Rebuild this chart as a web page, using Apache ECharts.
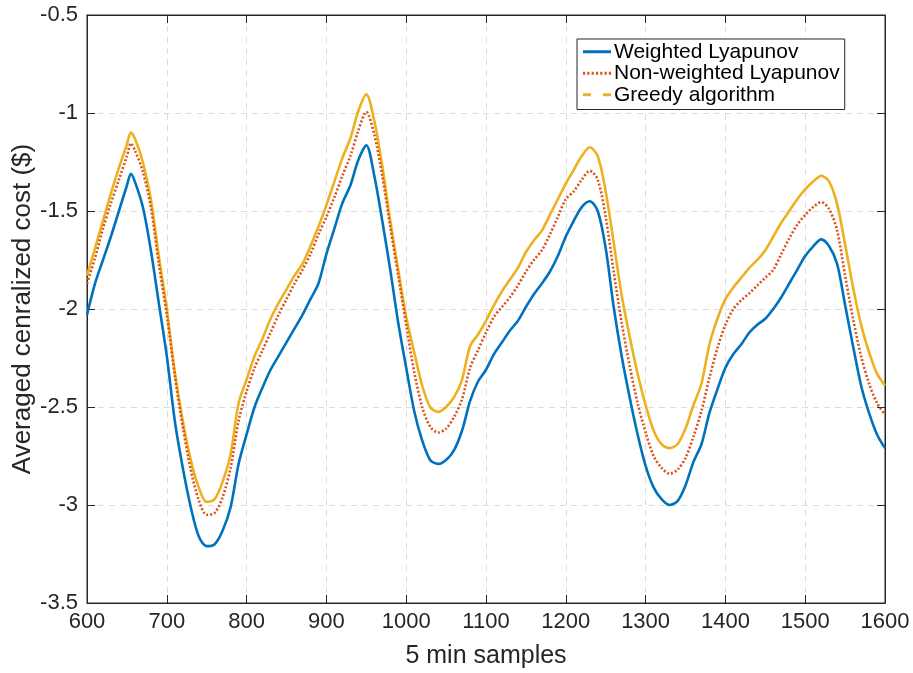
<!DOCTYPE html>
<html>
<head>
<meta charset="utf-8">
<script src="https://cdn.jsdelivr.net/npm/echarts@6/dist/echarts.min.js"></script>
<style>
html,body{margin:0;padding:0;background:#fff;}
#chart{width:913px;height:673px;}
</style>
</head>
<body>
<div id="chart"></div>
<script>
const samples = [600,610,620,630,640,650,655,660,670,680,690,700,710,720,730,740,750,760,770,780,790,800,810,820,830,840,850,860,870,880,890,900,910,920,930,940,950,960,970,980,990,1000,1010,1020,1030,1040,1050,1060,1070,1080,1090,1100,1110,1120,1130,1140,1150,1160,1170,1180,1190,1200,1210,1220,1230,1240,1250,1260,1270,1280,1290,1300,1310,1320,1330,1340,1350,1360,1370,1380,1390,1400,1410,1420,1430,1440,1450,1460,1470,1480,1490,1500,1510,1520,1530,1540,1550,1560,1570,1580,1590,1600];

const weighted = [-2.03,-1.87,-1.75,-1.63,-1.50,-1.37,-1.31,-1.35,-1.48,-1.70,-1.97,-2.24,-2.57,-2.81,-3.01,-3.16,-3.21,-3.20,-3.13,-3.01,-2.79,-2.64,-2.50,-2.40,-2.31,-2.24,-2.17,-2.10,-2.03,-1.95,-1.87,-1.72,-1.59,-1.46,-1.37,-1.24,-1.165,-1.32,-1.55,-1.80,-2.07,-2.30,-2.52,-2.67,-2.77,-2.79,-2.77,-2.72,-2.62,-2.47,-2.37,-2.31,-2.23,-2.17,-2.11,-2.06,-1.99,-1.925,-1.87,-1.81,-1.73,-1.63,-1.55,-1.48,-1.45,-1.50,-1.69,-1.99,-2.24,-2.45,-2.64,-2.80,-2.91,-2.97,-3.00,-2.98,-2.90,-2.78,-2.69,-2.53,-2.41,-2.30,-2.23,-2.18,-2.12,-2.08,-2.05,-2.00,-1.94,-1.87,-1.80,-1.73,-1.68,-1.645,-1.68,-1.77,-1.98,-2.19,-2.39,-2.53,-2.64,-2.71];

const nonWeighted = [-1.87,-1.74,-1.59,-1.46,-1.34,-1.22,-1.155,-1.19,-1.30,-1.48,-1.77,-2.03,-2.34,-2.60,-2.82,-2.975,-3.05,-3.04,-2.96,-2.81,-2.57,-2.42,-2.30,-2.21,-2.12,-2.03,-1.95,-1.87,-1.80,-1.72,-1.62,-1.53,-1.43,-1.32,-1.22,-1.09,-0.995,-1.11,-1.32,-1.58,-1.83,-2.08,-2.32,-2.50,-2.60,-2.63,-2.61,-2.55,-2.46,-2.30,-2.21,-2.12,-2.04,-1.99,-1.94,-1.88,-1.81,-1.75,-1.70,-1.62,-1.53,-1.44,-1.40,-1.34,-1.295,-1.34,-1.53,-1.81,-2.07,-2.29,-2.48,-2.63,-2.75,-2.81,-2.84,-2.82,-2.76,-2.65,-2.52,-2.35,-2.20,-2.08,-2.00,-1.955,-1.92,-1.88,-1.84,-1.80,-1.72,-1.64,-1.57,-1.52,-1.48,-1.455,-1.49,-1.60,-1.83,-2.05,-2.24,-2.38,-2.48,-2.54];

const greedy = [-1.83,-1.69,-1.55,-1.41,-1.28,-1.16,-1.10,-1.13,-1.25,-1.44,-1.73,-2.00,-2.32,-2.57,-2.77,-2.91,-2.985,-2.97,-2.88,-2.74,-2.48,-2.36,-2.24,-2.15,-2.05,-1.97,-1.90,-1.83,-1.77,-1.68,-1.58,-1.47,-1.35,-1.23,-1.13,-0.99,-0.905,-1.04,-1.27,-1.55,-1.80,-2.04,-2.22,-2.39,-2.50,-2.525,-2.50,-2.45,-2.36,-2.19,-2.13,-2.06,-1.98,-1.91,-1.85,-1.79,-1.71,-1.65,-1.60,-1.52,-1.44,-1.36,-1.29,-1.22,-1.175,-1.22,-1.40,-1.66,-1.93,-2.14,-2.33,-2.49,-2.62,-2.69,-2.71,-2.69,-2.61,-2.49,-2.38,-2.18,-2.05,-1.95,-1.89,-1.84,-1.79,-1.75,-1.70,-1.63,-1.56,-1.50,-1.44,-1.39,-1.35,-1.32,-1.35,-1.465,-1.67,-1.89,-2.08,-2.22,-2.33,-2.39];

const seriesNames = ['Weighted Lyapunov','Non-weighted Lyapunov','Greedy algorithm'];
const xTitle = '5 min samples';
const yTitle = 'Averaged cenralized cost ($)';

function pairs(vals){ return samples.map((x,i)=>[x, vals[i]]); }

// legend icons: solid, dotted, dashed line glyphs
let dotted = 'path://';
for (let i = 0; i <= 26; i += 4) dotted += 'M' + i + ',0h2v3h-2z';
const solidIcon = 'path://M0,0h28v3h-28z';
const dashedIcon = 'path://M0,0h8v3h-8zM20,0h8v3h-8z';

const FONT = 'Liberation Sans, Arial, Helvetica, sans-serif';
const axisColor = '#262626';
const gridLine = {show:true, lineStyle:{color:'#dcdcdc', type:[6,5], width:1}};

const chart = echarts.init(document.getElementById('chart'), null, {renderer:'canvas'});
chart.setOption({
  backgroundColor:'#ffffff',
  animation:false,
  grid:{left:87, right:28, top:15, bottom:70, containLabel:false, outerBoundsMode:'none',
        show:true, borderColor:axisColor, borderWidth:1, backgroundColor:'transparent'},
  legend:{
    show:true,
    orient:'vertical', left:577, top:39,
    backgroundColor:'#ffffff', borderColor:axisColor, borderWidth:1,
    padding:[2,5,4,6], itemGap:0, itemWidth:28, itemHeight:14,
    itemStyle:{borderWidth:0},
    textStyle:{fontFamily:FONT, fontSize:21, color:'#000', lineHeight:21.5, padding:[0,0,0,-2]},
    data:[
      {name:seriesNames[0], icon:solidIcon},
      {name:seriesNames[1], icon:dotted},
      {name:seriesNames[2], icon:dashedIcon}
    ]
  },
  xAxis:[{
    type:'value', min:600, max:1600, interval:100, position:'bottom',
    name:xTitle, nameLocation:'middle', nameGap:41, nameMoveOverlap:false,
    nameTextStyle:{fontFamily:FONT, fontSize:25, color:axisColor},
    axisLine:{show:true, onZero:false, lineStyle:{color:axisColor}},
    axisTick:{show:true, inside:true, length:8, lineStyle:{color:axisColor}},
    axisLabel:{fontFamily:FONT, fontSize:22, color:axisColor, margin:8, formatter:(v)=>String(v)},
    splitLine:gridLine
  },{
    type:'value', min:600, max:1600, interval:100, position:'top',
    axisLine:{show:true, onZero:false, lineStyle:{color:axisColor}},
    axisTick:{show:true, inside:true, length:8, lineStyle:{color:axisColor}},
    axisLabel:{show:false}, splitLine:{show:false}
  }],
  yAxis:[{
    type:'value', min:-3.5, max:-0.5, interval:0.5, position:'left',
    name:yTitle, nameLocation:'middle', nameGap:51, nameMoveOverlap:false,
    nameTextStyle:{fontFamily:FONT, fontSize:26, color:axisColor},
    axisLine:{show:true, onZero:false, lineStyle:{color:axisColor}},
    axisTick:{show:true, inside:true, length:8, lineStyle:{color:axisColor}},
    axisLabel:{fontFamily:FONT, fontSize:22, color:axisColor, margin:9, formatter:(v)=>String(v)},
    splitLine:gridLine
  },{
    type:'value', min:-3.5, max:-0.5, interval:0.5, position:'right',
    axisLine:{show:true, onZero:false, lineStyle:{color:axisColor}},
    axisTick:{show:true, inside:true, length:8, lineStyle:{color:axisColor}},
    axisLabel:{show:false}, splitLine:{show:false}
  }],
  series:[
    {name:seriesNames[0], type:'line', data:pairs(weighted), showSymbol:false, symbol:'none', smooth:0.3,
     lineStyle:{color:'#0072BD', width:2.6}, itemStyle:{color:'#0072BD'}, z:3},
    {name:seriesNames[1], type:'line', data:pairs(nonWeighted), showSymbol:false, symbol:'none', smooth:0.3,
     lineStyle:{color:'#D95319', width:2.6, type:[2,2]}, itemStyle:{color:'#D95319'}, z:4},
    {name:seriesNames[2], type:'line', data:pairs(greedy), showSymbol:false, symbol:'none', smooth:0.3,
     lineStyle:{color:'#EDB120', width:2.6}, itemStyle:{color:'#EDB120'}, z:2}
  ]
});
</script>
</body>
</html>
